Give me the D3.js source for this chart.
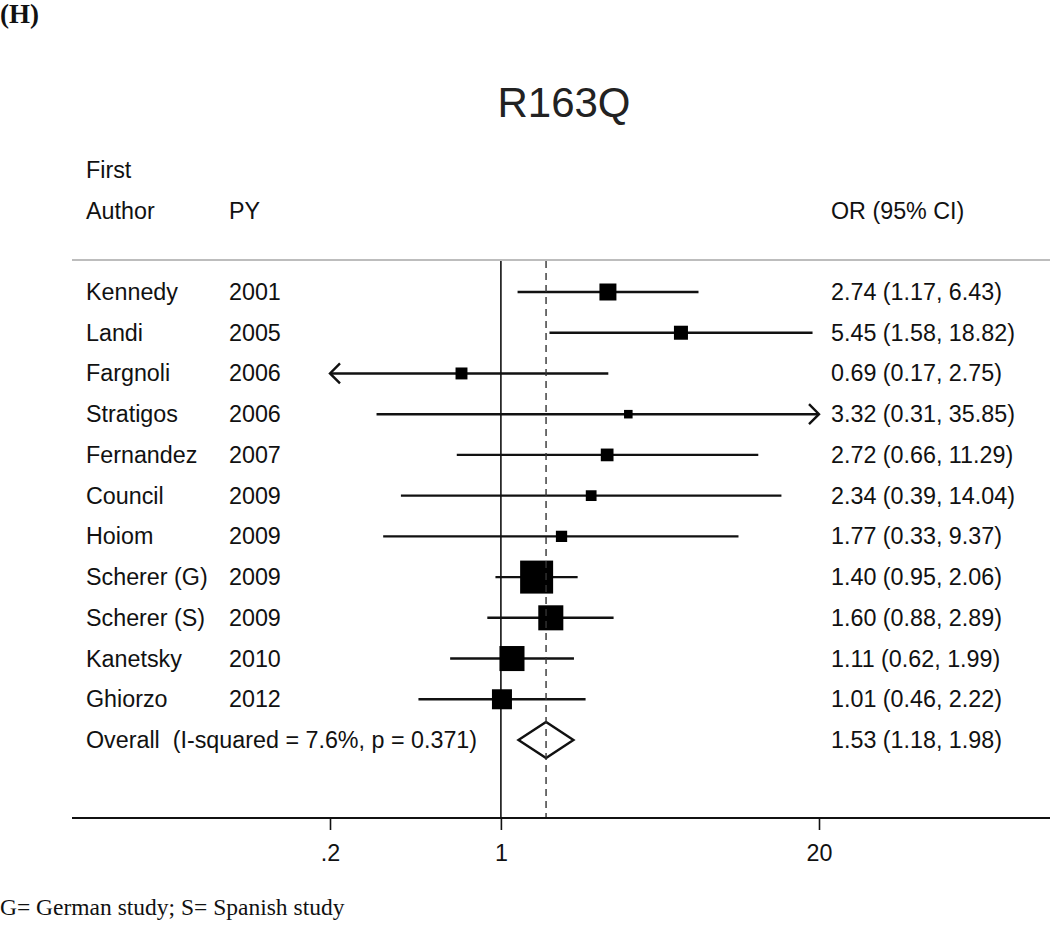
<!DOCTYPE html>
<html>
<head>
<meta charset="utf-8">
<script src="https://cdn.jsdelivr.net/npm/d3@7"></script>
<style>
  html, body { margin: 0; padding: 0; background: #fff; }
  svg { display: block; }
  text { white-space: pre; }
</style>
</head>
<body>
<svg id="chart" width="1050" height="945"></svg>
<script>
// ---- data ----
const authors = ["Kennedy", "Landi", "Fargnoli", "Stratigos", "Fernandez", "Council", "Hoiom", "Scherer (G)", "Scherer (S)", "Kanetsky", "Ghiorzo"];
const years   = ["2001", "2005", "2006", "2006", "2007", "2009", "2009", "2009", "2009", "2010", "2012"];
const orVals  = [2.74, 5.45, 0.69, 3.32, 2.72, 2.34, 1.77, 1.40, 1.60, 1.11, 1.01];
const ciLow   = [1.17, 1.58, 0.17, 0.31, 0.66, 0.39, 0.33, 0.95, 0.88, 0.62, 0.46];
const ciHigh  = [6.43, 18.82, 2.75, 35.85, 11.29, 14.04, 9.37, 2.06, 2.89, 1.99, 2.22];
const weights = [7.5, 5.1, 3.7, 1.9, 4.2, 3.0, 3.3, 28.3, 16.3, 16.3, 10.4];
const overall = { label: "Overall  (I-squared = 7.6%, p = 0.371)", or: 1.53, lo: 1.18, hi: 1.98 };
const tickValues = [0.2, 1, 20];
const tickLabels = [".2", "1", "20"];

// ---- drawing ----
const svg = d3.select("#chart");
const sans = "'Liberation Sans', Arial, Helvetica, sans-serif";
const serif = "'Liberation Serif', 'Times New Roman', serif";
const ink = "#111";
const fs = 23.3;

const x = d3.scaleLog().domain([0.2, 20]).range([330, 819]);
const y = d3.scaleLinear().domain([0, authors.length]).range([292, 740]);
const boxSize = d3.scaleSqrt().domain([0, d3.max(weights)]).range([0, 33]);
const clampX = v => x(Math.max(0.2, Math.min(20, v)));

// panel label
svg.append("text").attr("x", 0).attr("y", 23)
  .attr("font-family", serif).attr("font-weight", "bold").attr("font-size", 27)
  .attr("fill", ink).text("(H)");

// title
svg.append("text").attr("x", 564).attr("y", 117).attr("text-anchor", "middle")
  .attr("font-family", sans).attr("font-size", 42).attr("fill", "#222").text("R163Q");

// headers
const hdr = svg.append("g").attr("font-family", sans).attr("font-size", fs).attr("fill", ink);
hdr.append("text").attr("x", 86).attr("y", 178).text("First");
hdr.append("text").attr("x", 86).attr("y", 219).text("Author");
hdr.append("text").attr("x", 229).attr("y", 219).text("PY");
hdr.append("text").attr("x", 831).attr("y", 219).text("OR (95% CI)");

// gray separator
svg.append("line").attr("x1", 72).attr("x2", 1050).attr("y1", 260).attr("y2", 260)
  .attr("stroke", "#bdbdbd").attr("stroke-width", 2);

// null line
svg.append("line").attr("x1", x(1)).attr("x2", x(1)).attr("y1", 261).attr("y2", 818)
  .attr("stroke", ink).attr("stroke-width", 1.6);

// study rows
const rows = svg.append("g");
authors.forEach((a, i) => {
  const cy = y(i);
  const g = rows.append("g");
  const x1 = clampX(ciLow[i]), x2 = clampX(ciHigh[i]);
  g.append("line").attr("x1", x1).attr("x2", x2).attr("y1", cy).attr("y2", cy)
    .attr("stroke", ink).attr("stroke-width", 2.4);
  if (ciLow[i] < 0.2) {
    g.append("path").attr("d", `M${x1 + 10},${cy - 10} L${x1},${cy} L${x1 + 10},${cy + 10}`)
      .attr("fill", "none").attr("stroke", ink).attr("stroke-width", 2.4);
  }
  if (ciHigh[i] > 20) {
    g.append("path").attr("d", `M${x2 - 10},${cy - 10} L${x2},${cy} L${x2 - 10},${cy + 10}`)
      .attr("fill", "none").attr("stroke", ink).attr("stroke-width", 2.4);
  }
  const s = boxSize(weights[i]);
  g.append("rect").attr("x", x(orVals[i]) - s / 2).attr("y", cy - s / 2)
    .attr("width", s).attr("height", s).attr("fill", "#000");
});

// overall diamond
const oy = y(authors.length);
svg.append("path")
  .attr("d", `M${x(overall.lo)},${oy} L${x(overall.or)},${oy - 18} L${x(overall.hi)},${oy} L${x(overall.or)},${oy + 18} Z`)
  .attr("fill", "none").attr("stroke", ink).attr("stroke-width", 2.4);

// dashed overall line
svg.append("line").attr("x1", x(overall.or)).attr("x2", x(overall.or)).attr("y1", 261).attr("y2", 818)
  .attr("stroke", "#333").attr("stroke-width", 1.4).attr("stroke-dasharray", "7,5");

// text columns
const txt = svg.append("g").attr("font-family", sans).attr("font-size", fs).attr("fill", ink);
const fmt = d3.format(".2f");
authors.forEach((a, i) => {
  const by = y(i) + 8;
  txt.append("text").attr("x", 86).attr("y", by).text(a);
  txt.append("text").attr("x", 229).attr("y", by).text(years[i]);
  txt.append("text").attr("x", 831).attr("y", by)
    .text(`${fmt(orVals[i])} (${fmt(ciLow[i])}, ${fmt(ciHigh[i])})`);
});
txt.append("text").attr("x", 86).attr("y", oy + 8).attr("xml:space", "preserve").text(overall.label);
txt.append("text").attr("x", 831).attr("y", oy + 8)
  .text(`${fmt(overall.or)} (${fmt(overall.lo)}, ${fmt(overall.hi)})`);

// x axis
svg.append("line").attr("x1", 72).attr("x2", 1050).attr("y1", 818).attr("y2", 818)
  .attr("stroke", ink).attr("stroke-width", 2);
const axis = d3.axisBottom(x).tickValues(tickValues)
  .tickFormat((d, i) => tickLabels[i]).tickSize(12).tickPadding(14);
const ag = svg.append("g").attr("transform", "translate(0,818)").call(axis);
ag.select(".domain").remove();
ag.selectAll(".tick line").attr("stroke", ink).attr("stroke-width", 1.6);
ag.selectAll(".tick text").attr("font-family", sans).attr("font-size", fs).attr("fill", ink);

// footnote
svg.append("text").attr("x", 0).attr("y", 915)
  .attr("font-family", serif).attr("font-size", 23.5).attr("fill", ink)
  .text("G= German study; S= Spanish study");
</script>
</body>
</html>
